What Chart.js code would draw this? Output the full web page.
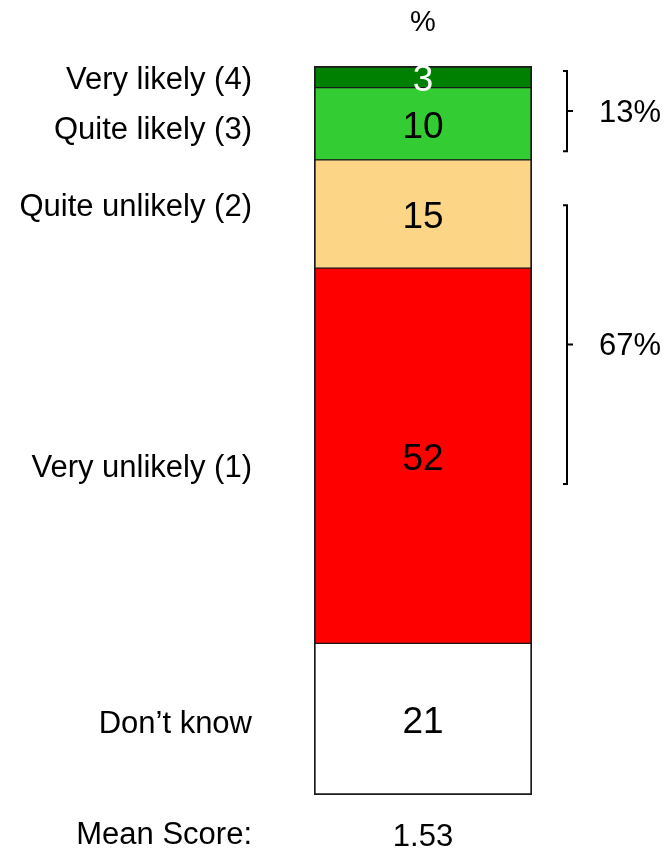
<!DOCTYPE html>
<html>
<head>
<meta charset="utf-8">
<script src="https://cdn.jsdelivr.net/npm/chart.js@4/dist/chart.umd.min.js"></script>
<style>
  body { margin: 0; background: #fff; }
</style>
</head>
<body>
<canvas id="likelihoodChart" width="667" height="850"></canvas>
<script>
// stacked bottom to top
const categories = ['Don’t know', 'Very unlikely (1)', 'Quite unlikely (2)', 'Quite likely (3)', 'Very likely (4)'];
const percentages = [21, 52, 15, 10, 3];
const segmentColors = ['#ffffff', '#ff0000', '#fdd587', '#33cc33', '#008000'];
const valueColors = ['#000000', '#000000', '#000000', '#000000', '#ffffff'];
const netGroups = [[3, 4], [1, 2]];   // likely, unlikely
const meanScore = '1.53';

const FONT = "'Liberation Sans', Arial, sans-serif";
const total = percentages.reduce((a, b) => a + b, 0);

const labelsPlugin = {
    id: 'sideLabels',
    afterDraw(chart, args, opts) {
        const ctx = chart.ctx;
        const area = chart.chartArea;
        const yScale = chart.scales.y;
        const cx = (area.left + area.right) / 2;
        ctx.save();
        ctx.textBaseline = 'middle';

        categories.forEach((name, i) => {
            const el = chart.getDatasetMeta(i).data[0];
            const mid = (el.y + el.base) / 2;

            // category name on the left
            ctx.font = '31px ' + FONT;
            ctx.fillStyle = '#000';
            ctx.textAlign = 'right';
            ctx.fillText(name, opts.labelX, mid + opts.labelNudge[i] + 2);

            // value inside the segment
            ctx.font = '37px ' + FONT;
            ctx.fillStyle = valueColors[i];
            ctx.textAlign = 'center';
            ctx.fillText(String(percentages[i]), el.x, mid + 4);
        });

        // header and mean score
        ctx.fillStyle = '#000';
        ctx.font = '29px ' + FONT;
        ctx.textAlign = 'center';
        ctx.fillText('%', cx, 23);
        ctx.font = '31px ' + FONT;
        ctx.textAlign = 'right';
        ctx.fillText('Mean Score:', opts.labelX, 835);
        ctx.textAlign = 'center';
        ctx.fillText(meanScore, cx, 837);

        // net brackets
        const bx = area.right + 35;
        ctx.strokeStyle = '#000';
        ctx.lineWidth = 2;
        netGroups.forEach((group, g) => {
            const span = opts.bracketSpans[g];
            const yTop = yScale.getPixelForValue(span[1]);
            const yBot = yScale.getPixelForValue(span[0]);
            const yMid = (yTop + yBot) / 2;
            ctx.beginPath();
            ctx.moveTo(bx - 4, yTop);
            ctx.lineTo(bx, yTop);
            ctx.lineTo(bx, yBot);
            ctx.lineTo(bx - 4, yBot);
            ctx.moveTo(bx, yMid);
            ctx.lineTo(bx + 6, yMid);
            ctx.stroke();

            const net = group.reduce((s, idx) => s + percentages[idx], 0);
            ctx.font = '31px ' + FONT;
            ctx.textAlign = 'left';
            ctx.fillText(net + '%', bx + 32, yMid + 2);
        });
        ctx.restore();
    }
};

const datasets = categories.map((name, i) => ({
    label: name,
    data: [percentages[i]],
    backgroundColor: segmentColors[i],
    borderColor: '#1a1a1a',
    borderWidth: {
        left: 2,
        right: 2,
        top: i === categories.length - 1 ? 2 : 1,
        bottom: i === 0 ? 2 : 1
    },
    borderSkipped: false,
    barPercentage: 1,
    categoryPercentage: 1
}));

new Chart(document.getElementById('likelihoodChart'), {
    type: 'bar',
    data: { labels: [''], datasets },
    options: {
        responsive: false,
        animation: false,
        layout: { padding: { left: 314, right: 135, top: 66, bottom: 55 } },
        scales: {
            x: { display: false, stacked: true },
            y: { display: false, stacked: true, min: 0, max: total }
        },
        plugins: {
            legend: { display: false },
            tooltip: { enabled: false },
            sideLabels: {
                labelX: 252,
                labelNudge: [3, 11, -9, 5, 1.5],
                bracketSpans: [[89.2, 100.3], [43.1, 81.7]]
            }
        }
    },
    plugins: [labelsPlugin]
});
</script>
</body>
</html>
